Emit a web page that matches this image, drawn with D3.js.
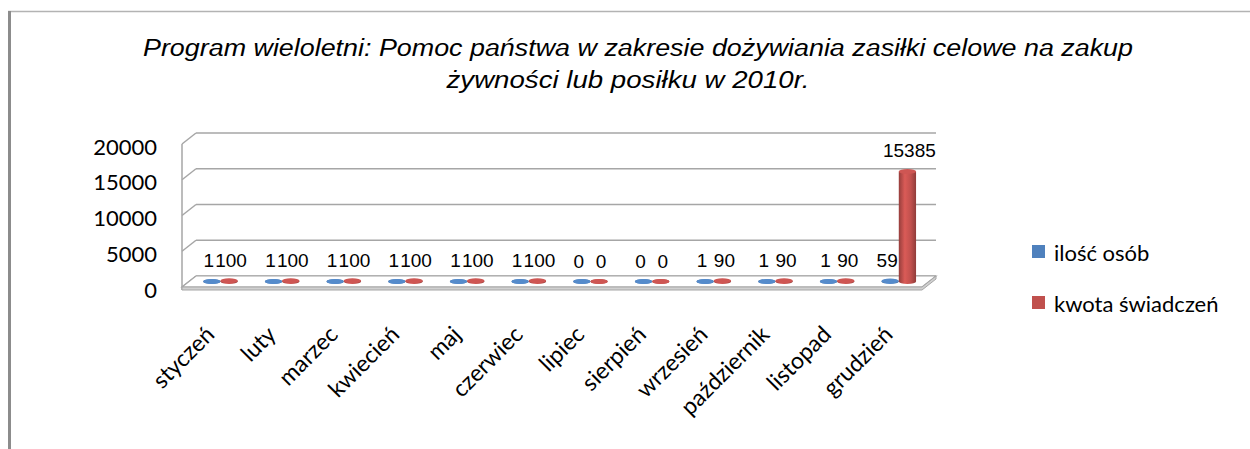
<!DOCTYPE html>
<html>
<head>
<meta charset="utf-8">
<script src="https://cdn.jsdelivr.net/npm/d3@7"></script>
<style>
  body { margin: 0; background: #fff; }
  svg { display: block; }
</style>
</head>
<body>
<div id="chart"></div>
<script>
// data
const months = ["styczeń", "luty", "marzec", "kwiecień", "maj", "czerwiec",
                "lipiec", "sierpień", "wrzesień", "październik", "listopad", "grudzień"];
const series = ["ilość osób", "kwota świadczeń"];
const iloscOsob = [1, 1, 1, 1, 1, 1, 0, 0, 1, 1, 1, 59];
const kwotaSwiadczen = [100, 100, 100, 100, 100, 100, 0, 0, 90, 90, 90, 15385];
const yTicks = [0, 5000, 10000, 15000, 20000];
const colors = ["#4F81BD", "#C0504D"];
const titleLines = ["Program wieloletni: Pomoc państwa w zakresie dożywiania zasiłki celowe na zakup",
                    "żywności lub posiłku w 2010r."];

const W = 1250, H = 449;
// 3d depth offset of the back wall
const depth = {dx: 14, dy: -11};

let svg = d3.select("#chart")
    .append("svg")
        .attr("width", W)
        .attr("height", H);

// outer frame
svg.append("line")
    .attr("x1", 8).attr("x2", W).attr("y1", 11.5).attr("y2", 11.5)
    .style("stroke", "#b3b3b3").style("stroke-width", 1.5);
svg.append("line")
    .attr("x1", 9.5).attr("x2", 9.5).attr("y1", 11).attr("y2", H)
    .style("stroke", "#8c8c8c").style("stroke-width", 3);

// title
svg.selectAll(".title")
    .data(titleLines)
    .enter()
    .append("text")
        .attr("class", "title")
        .attr("x", (d, i) => i == 0 ? 638 : 628)
        .attr("y", (d, i) => 56 + i * 32)
        .attr("text-anchor", "middle")
        .attr("textLength", (d, i) => i == 0 ? 990 : 363)
        .attr("lengthAdjust", "spacingAndGlyphs")
        .style("font-family", "'Liberation Sans', Arial, sans-serif")
        .style("font-style", "italic")
        .style("font-size", "23px")
        .style("fill", "#000")
        .text(d => d);

// scales (front plane)
let x = d3.scaleBand()
    .domain(months)
    .range([182, 922]);

let x1 = d3.scaleBand()
    .domain(series)
    .range([x.bandwidth() * 0.23, x.bandwidth() * 0.79]);

let y = d3.scaleLinear()
    .domain([0, 20000])
    .range([287, 144]);

let x0 = x.range()[0], xEnd = x.range()[1];

// back wall gridlines
svg.append("g")
    .selectAll("line")
    .data(yTicks)
    .enter()
    .append("line")
        .attr("x1", x0 + depth.dx)
        .attr("x2", xEnd + depth.dx)
        .attr("y1", d => y(d) + depth.dy)
        .attr("y2", d => y(d) + depth.dy)
        .style("stroke", "#a6a6a6")
        .style("stroke-width", 1.5);

// left side wall
svg.append("g")
    .selectAll("line")
    .data(yTicks)
    .enter()
    .append("line")
        .attr("x1", x0)
        .attr("x2", x0 + depth.dx)
        .attr("y1", d => y(d))
        .attr("y2", d => y(d) + depth.dy)
        .style("stroke", "#a6a6a6")
        .style("stroke-width", 1.5);
svg.append("line")
    .attr("x1", x0).attr("x2", x0)
    .attr("y1", y(20000)).attr("y2", y(0) + 3)
    .style("stroke", "#a6a6a6").style("stroke-width", 1.5);

// floor
let fy = y(0);
svg.append("polygon")
    .attr("points", [[x0, fy], [xEnd, fy], [xEnd + depth.dx, fy + depth.dy], [x0 + depth.dx, fy + depth.dy]].join(" "))
    .style("fill", "#fff")
    .style("stroke", "#a6a6a6")
    .style("stroke-width", 1.2);
svg.append("polygon")
    .attr("points", [[x0, fy], [xEnd, fy], [xEnd + depth.dx, fy + depth.dy], [xEnd + depth.dx, fy + depth.dy + 3], [xEnd, fy + 3], [x0, fy + 3]].join(" "))
    .style("fill", "#d0d0d0")
    .style("stroke", "#a6a6a6")
    .style("stroke-width", 1);

// y axis labels
svg.append("g")
    .selectAll("text")
    .data(yTicks)
    .enter()
    .append("text")
        .attr("x", 157)
        .attr("y", d => y(d) + 2)
        .attr("text-anchor", "end")
        .attr("dominant-baseline", "central")
        .style("font-family", "Lato, sans-serif")
        .style("font-size", "22px")
        .style("fill", "#000")
        .text(d => d);

// gradients for the cylinders
let defs = svg.append("defs");
colors.forEach(function (c, i) {
    let g = defs.append("linearGradient")
        .attr("id", "cyl" + i)
        .attr("x1", "0%").attr("x2", "100%").attr("y1", "0%").attr("y2", "0%");
    g.append("stop").attr("offset", "0%").attr("stop-color", d3.color(c).darker(0.7));
    g.append("stop").attr("offset", "35%").attr("stop-color", d3.color(c).brighter(0.35));
    g.append("stop").attr("offset", "70%").attr("stop-color", c);
    g.append("stop").attr("offset", "100%").attr("stop-color", d3.color(c).darker(0.8));
});

let rows = months.map((m, i) => ({month: m, values: [iloscOsob[i], kwotaSwiadczen[i]]}));
let bars = [];
rows.forEach(function (r) {
    r.values.forEach(function (v, j) {
        bars.push({month: r.month, s: series[j], j: j, value: v});
    });
});

let bw = x1.bandwidth();
let ry = 2.5;
let cx = d => x(d.month) + x1(d.s) + bw / 2 + depth.dx / 2;
let yb = d => y(0) + depth.dy / 2;
let yt = d => y(d.value) + depth.dy / 2;

let cyl = svg.append("g")
    .selectAll("g")
    .data(bars)
    .enter()
    .append("g");

cyl.append("ellipse")
    .attr("cx", cx)
    .attr("cy", yb)
    .attr("rx", bw / 2)
    .attr("ry", ry)
    .style("fill", d => "url(#cyl" + d.j + ")");

cyl.append("rect")
    .attr("x", d => cx(d) - bw / 2)
    .attr("y", yt)
    .attr("width", bw)
    .attr("height", d => yb(d) - yt(d))
    .style("fill", d => "url(#cyl" + d.j + ")");

cyl.append("ellipse")
    .attr("cx", cx)
    .attr("cy", yt)
    .attr("rx", bw / 2)
    .attr("ry", ry)
    .style("fill", d => d3.color(colors[d.j]).brighter(0.2));

// value labels (nudged apart a little so the pairs don't collide)
svg.append("g")
    .selectAll("text")
    .data(bars)
    .enter()
    .append("text")
        .attr("x", d => cx(d) + (d.j == 0 ? -3 : 2))
        .attr("y", d => yt(d) - 14)
        .attr("text-anchor", "middle")
        .style("font-family", "'Liberation Sans', Arial, sans-serif")
        .style("font-size", "19px")
        .style("fill", "#000")
        .text(d => d.value);

// category labels
svg.append("g")
    .selectAll("text")
    .data(months)
    .enter()
    .append("text")
        .attr("transform", d => "translate(" + (x(d) + x.bandwidth() / 2 + 3) + ",336) rotate(-45)")
        .attr("text-anchor", "end")
        .style("font-family", "Lato, sans-serif")
        .style("font-size", "23px")
        .style("fill", "#000")
        .text(d => d);

// legend
let legend = svg.append("g")
    .selectAll("g")
    .data(series)
    .enter()
    .append("g")
        .attr("transform", (d, i) => "translate(1032," + (245 + i * 51) + ")");
legend.append("rect")
    .attr("width", 13)
    .attr("height", 13)
    .style("fill", (d, i) => colors[i]);
legend.append("text")
    .attr("x", 22)
    .attr("y", 7)
    .attr("dominant-baseline", "central")
    .style("font-family", "Lato, sans-serif")
    .style("font-size", "22px")
    .style("fill", "#000")
    .text(d => d);
</script>
</body>
</html>
